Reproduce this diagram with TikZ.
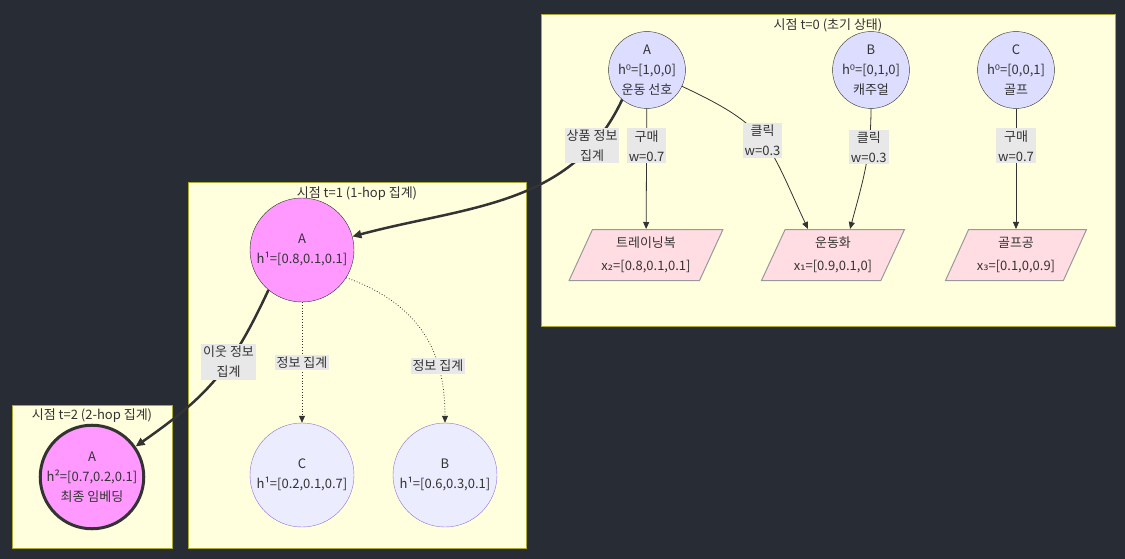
\documentclass[tikz,border=0pt]{standalone}
\usepackage{fontspec}
\setmainfont{Noto Sans CJK KR}
\newfontfamily\supfont{DejaVu Sans}
\newcommand{\idx}[1]{{\supfont #1}}
\usetikzlibrary{positioning, arrows.meta, shapes.geometric}

\definecolor{bgdark}{HTML}{282C34}
\definecolor{clusterfill}{HTML}{FFFFDE}
\definecolor{clusterline}{HTML}{AAAA33}
\definecolor{initfill}{HTML}{DDDDFF}
\definecolor{itemfill}{HTML}{FFDDE2}
\definecolor{hopfill}{HTML}{FF99FF}
\definecolor{nbfill}{HTML}{ECECFF}
\definecolor{nbline}{HTML}{9370DB}
\definecolor{labelfill}{HTML}{E8E8E8}
\definecolor{inkgray}{HTML}{333333}

\begin{document}
\begin{tikzpicture}[
    x=1pt, y=-1pt,
    every node/.style={font=\fontsize{13}{20}\selectfont, text=inkgray},
    % 공통 스타일
    cluster/.style={rectangle, draw=clusterline, fill=clusterfill, line width=1pt, inner sep=0pt},
    title/.style={inner sep=0pt},
    initnode/.style={circle, draw=inkgray, fill=initfill, minimum size=68pt, inner sep=0pt, align=center},
    item/.style={trapezium, trapezium left angle=64, trapezium right angle=116, trapezium stretches=true, draw=gray!80, line width=1pt, fill=itemfill, minimum height=51pt, align=center},
    hopnode/.style={circle, draw=inkgray, fill=hopfill, minimum size=104pt, inner sep=0pt, align=center},
    nbnode/.style={circle, draw=nbline, fill=nbfill, minimum size=104pt, inner sep=0pt, align=center},
    finalnode/.style={hopnode, line width=3pt, minimum size=100pt},
    edgelbl/.style={fill=labelfill, inner sep=2pt, align=center},
    % 화살표 스타일
    link/.style={-{Triangle[length=7pt, width=6pt]}, draw=inkgray, line width=0.8pt},
    dotlink/.style={link, dotted},
    flow/.style={-{Triangle[length=9pt, width=8pt]}, draw=inkgray, line width=2.5pt}
]

\fill[bgdark] (0,0) rectangle (1125,559);

% ====================
% 시점 t=0 (초기 상태)
% ====================
\node[cluster, minimum width=574pt, minimum height=311pt] (g0) at (828,170.5) {};
\node[title, below=4pt of g0.north] (g0title) {시점 t=0 (초기 상태)};

\node[initnode] (A0) at (647,70) {A\\h\idx{⁰}=[1,0,0]\\운동 선호};
\node[initnode] (B0) at (871,70) {B\\h\idx{⁰}=[0,1,0]\\캐주얼};
\node[initnode] (C0) at (1016,70) {C\\h\idx{⁰}=[0,0,1]\\골프};

\node[item, minimum width=154pt] (Tr) at (646,255) {트레이닝복\\[3pt]x\idx{₂}=[0.8,0.1,0.1]};
\node[item, minimum width=143pt] (Sh) at (833,255) {운동화\\[3pt]x\idx{₁}=[0.9,0.1,0]};
\node[item, minimum width=141pt] (Gb) at (1016,255) {골프공\\[3pt]x\idx{₃}=[0.1,0,0.9]};

\coordinate (ShL) at ([xshift=-25pt]Sh.north);
\coordinate (ShR) at ([xshift=17pt]Sh.north);

% ====================
% 시점 t=1 (1-hop 집계)
% ====================
\node[cluster, minimum width=338pt, minimum height=365pt] (g1) at (357,365.5) {};
\node[title, below=4pt of g1.north] (g1title) {시점 t=1 (1-hop 집계)};

\node[hopnode] (A1) at (302,250) {A\\h¹=[0.8,0.1,0.1]};
\node[nbnode] (C1) at (302,475) {C\\h¹=[0.2,0.1,0.7]};
\node[nbnode] (B1) at (445,475) {B\\h¹=[0.6,0.3,0.1]};

% ====================
% 시점 t=2 (2-hop 집계)
% ====================
\node[cluster, minimum width=160pt, minimum height=143pt] (g2) at (92,476.5) {};
\node[title, below=4pt of g2.north] (g2title) {시점 t=2 (2-hop 집계)};

\node[finalnode] (A2) at (92,477) {A\\h²=[0.7,0.2,0.1]\\최종 임베딩};

% 연결선
\draw[link] (A0) -- node[edgelbl, pos=0.31] {구매\\w=0.7} (Tr);
\draw[link] (A0.-25) to[out=-25, in=115, looseness=1.3] node[edgelbl, pos=0.5] {클릭\\w=0.3} (ShL);
\draw[link] (B0) to[out=-90, in=75] node[edgelbl, pos=0.3] {클릭\\w=0.3} (ShR);
\draw[link] (C0) -- node[edgelbl, pos=0.31] {구매\\w=0.7} (Gb);

\draw[flow] (A0.-130) to[out=-115, in=15] node[edgelbl, pos=0.17] {상품 정보\\집계} (A1);

\draw[dotlink] (A1) -- node[edgelbl] {정보 집계} (C1);
\draw[dotlink] (A1.-32) to[out=-20, in=90, out distance=80pt, in distance=70pt] node[edgelbl, pos=0.7] {정보 집계} (B1);

\draw[flow] (A1.-130) to[out=-115, in=35, looseness=1.1] node[edgelbl, pos=0.38] {이웃 정보\\집계} (A2);

\end{tikzpicture}
\end{document}
